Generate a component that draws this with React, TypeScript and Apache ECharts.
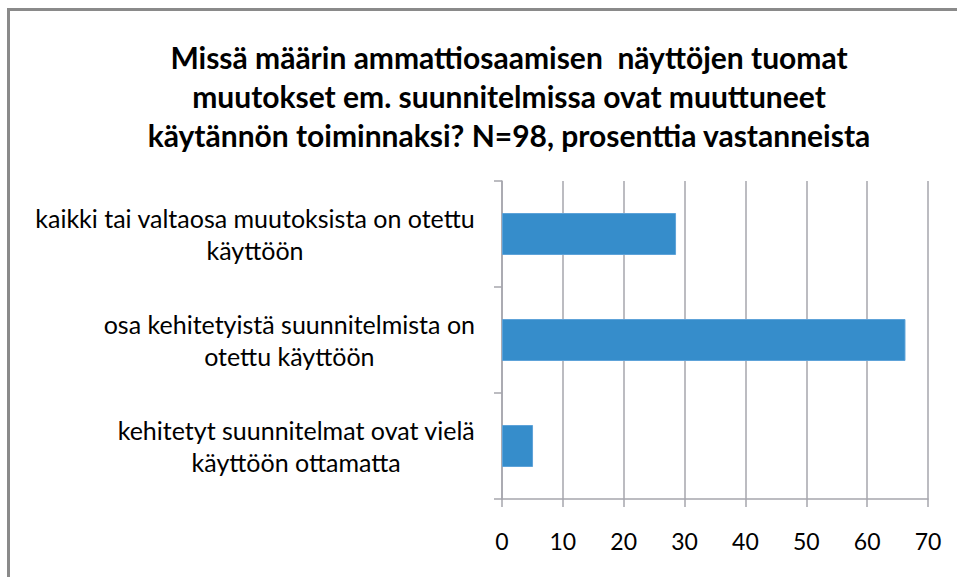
import React, { useEffect, useRef } from "react";
import * as echarts from "echarts";

const titleLines = [
  "Missä määrin ammattiosaamisen  näyttöjen tuomat",
  "muutokset em. suunnitelmissa ovat muuttuneet",
  "käytännön toiminnaksi? N=98, prosenttia vastanneista",
];
const categories = [
  "kaikki tai valtaosa muutoksista on otettu\nkäyttöön",
  "osa kehitetyistä suunnitelmista on\notettu käyttöön",
  "kehitetyt suunnitelmat ovat vielä\nkäyttöön ottamatta",
];
const values = [28.6, 66.3, 5.1];
const xTicks = { min: 0, max: 70, interval: 10 };

export default function App() {
  const ref = useRef<HTMLDivElement>(null);
  useEffect(() => {
    const chart = echarts.init(ref.current!, null, { renderer: "svg" });
    const font = "Lato, 'Liberation Sans', sans-serif";
    chart.setOption({
      animation: false,
      backgroundColor: "#ffffff",
      title: {
        text: titleLines.join("\n"),
        left: 504,
        textAlign: "center",
        top: 32,
        textStyle: {
          fontFamily: font,
          fontWeight: "bold",
          fontSize: 30,
          lineHeight: 39,
          color: "#000000",
        },
      },
      graphic: [
        {
          type: "rect",
          shape: { x: 8.5, y: 9.5, width: 960, height: 580 },
          style: { fill: "none", stroke: "#8a8a8a", lineWidth: 3 },
          silent: true,
        },
      ],
      grid: { left: 502, right: 29, top: 181, bottom: 78, containLabel: false },
      xAxis: {
        type: "value",
        min: xTicks.min,
        max: xTicks.max,
        interval: xTicks.interval,
        axisLine: { show: true, lineStyle: { color: "#a6a6ad", width: 1.5 } },
        axisTick: { show: true, length: 8, lineStyle: { color: "#a6a6ad", width: 1.5 } },
        splitLine: { show: true, lineStyle: { color: "#a6a6ad", width: 1.5 } },
        axisLabel: {
          margin: 30,
          fontFamily: font,
          fontSize: 23,
          color: "#000000",
        },
      },
      yAxis: {
        type: "category",
        inverse: true,
        data: categories,
        axisLine: { show: true, lineStyle: { color: "#a6a6ad", width: 1.5 } },
        axisTick: { show: true, length: 8, lineStyle: { color: "#a6a6ad", width: 1.5 } },
        axisLabel: {
          margin: 27,
          align: "right",
          formatter: (v: string) =>
            v
              .split("\n")
              .map((l) => "{c|" + l + "}")
              .join("\n"),
          rich: {
            c: {
              align: "center",
              fontFamily: font,
              fontSize: 25,
              lineHeight: 32,
              color: "#000000",
            },
          },
        },
      },
      series: [
        {
          type: "bar",
          data: values,
          barWidth: 42,
          itemStyle: { color: "#368dcb", borderColor: "#5ea3d9", borderWidth: 1 },
        },
      ],
    });
    return () => chart.dispose();
  }, []);
  return (
    <div
      ref={ref}
      style={{ position: "fixed", left: 0, top: 0, width: 957, height: 577 }}
    />
  );
}
